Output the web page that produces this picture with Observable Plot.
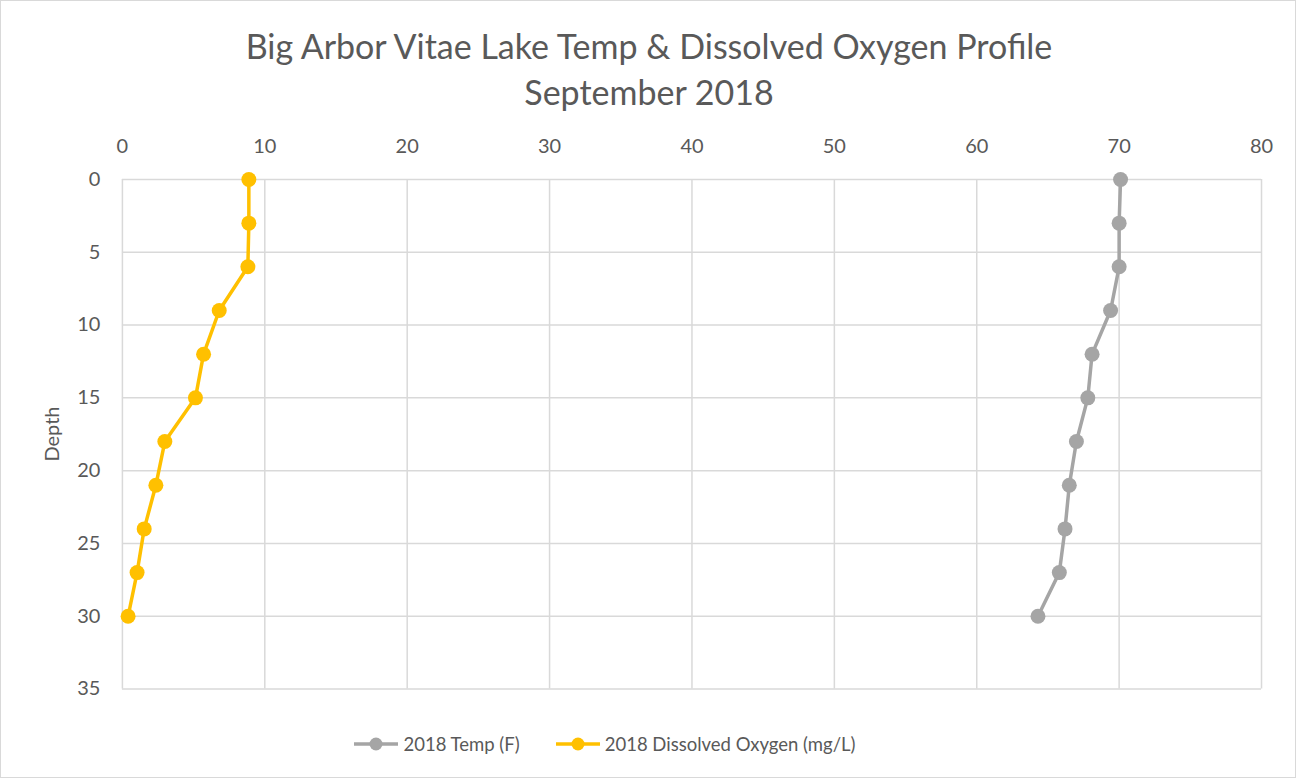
<!DOCTYPE html>
<html>
<head>
<meta charset="utf-8">
<script src="https://cdn.jsdelivr.net/npm/d3@7"></script>
<script src="https://cdn.jsdelivr.net/npm/@observablehq/plot@0.6"></script>
<style>
  html, body { margin: 0; padding: 0; background: #fff; }
  #chart { position: relative; width: 1296px; height: 778px; box-sizing: border-box; border: 1px solid #d9d9d9; font-family: Lato, "Open Sans", sans-serif; color: #595959; overflow: hidden; }
  #title { position: absolute; left: 0; top: 22px; width: 1296px; text-align: center; font-size: 34px; line-height: 46px; color: #595959; }
  #plot { position: absolute; left: -1px; top: 127px; }
  #ylabel { position: absolute; left: 50px; top: 433px; transform: translate(-50%, -50%) rotate(-90deg); font-size: 20px; }
  #legend { position: absolute; left: 0; top: 728px; width: 1296px; height: 30px; display: flex; justify-content: center; align-items: center; font-size: 18.5px; gap: 36px; margin-left: -44px; }
  .item { display: flex; align-items: center; gap: 5px; }
</style>
</head>
<body>
<div id="chart">
  <div id="title">Big Arbor Vitae Lake Temp &amp; Dissolved Oxygen Profile<br>September 2018</div>
  <div id="plot"></div>
  <div id="ylabel">Depth</div>
  <div id="legend"></div>
</div>
<script>
const depths = [0, 3, 6, 9, 12, 15, 18, 21, 24, 27, 30];
const temp = [70.1, 70.0, 70.0, 69.4, 68.1, 67.8, 67.0, 66.5, 66.2, 65.8, 64.3];
const dissolvedOxygen = [8.88, 8.88, 8.81, 6.8, 5.7, 5.13, 2.98, 2.35, 1.53, 1.03, 0.4];
const xTicks = [0, 10, 20, 30, 40, 50, 60, 70, 80];
const yTicks = [0, 5, 10, 15, 20, 25, 30, 35];
const seriesNames = ["2018 Temp (F)", "2018 Dissolved Oxygen (mg/L)"];
const seriesColors = ["#A5A5A5", "#FFC000"];

const data = [
  ...depths.map((d, i) => ({series: seriesNames[0], depth: d, value: temp[i]})),
  ...depths.map((d, i) => ({series: seriesNames[1], depth: d, value: dissolvedOxygen[i]}))
];

const chart = Plot.plot({
  width: 1296,
  height: 601,
  marginTop: 51,
  marginBottom: 40,
  marginLeft: 122,
  marginRight: 34,
  style: {fontFamily: "Lato, 'Open Sans', sans-serif", fontSize: "20px", color: "#595959", background: "transparent"},
  x: {domain: [0, 80], ticks: xTicks, axis: "top", tickSize: 0, tickPadding: 26, label: null},
  y: {domain: [0, 35], reverse: true, ticks: yTicks, tickSize: 0, tickPadding: 22, label: null},
  color: {domain: seriesNames, range: seriesColors},
  marks: [
    Plot.ruleX(xTicks, {stroke: "#d9d9d9", strokeWidth: 1.5, strokeOpacity: 1}),
    Plot.ruleY(yTicks, {stroke: "#d9d9d9", strokeWidth: 1.5, strokeOpacity: 1}),
    Plot.line(data, {x: "value", y: "depth", z: "series", stroke: "series", strokeWidth: 3.5, curve: "linear"}),
    Plot.dot(data, {x: "value", y: "depth", fill: "series", r: 7.5, stroke: "none"})
  ]
});
document.getElementById("plot").appendChild(chart);

const legend = d3.select("#legend");
seriesNames.forEach((name, i) => {
  const item = legend.append("div").attr("class", "item");
  const s = item.append("svg").attr("width", 44).attr("height", 16);
  s.append("line").attr("x1", 0).attr("x2", 44).attr("y1", 8).attr("y2", 8).attr("stroke", seriesColors[i]).attr("stroke-width", 3.5);
  s.append("circle").attr("cx", 22).attr("cy", 8).attr("r", 6.5).attr("fill", seriesColors[i]);
  item.append("span").text(name);
});
</script>
</body>
</html>
